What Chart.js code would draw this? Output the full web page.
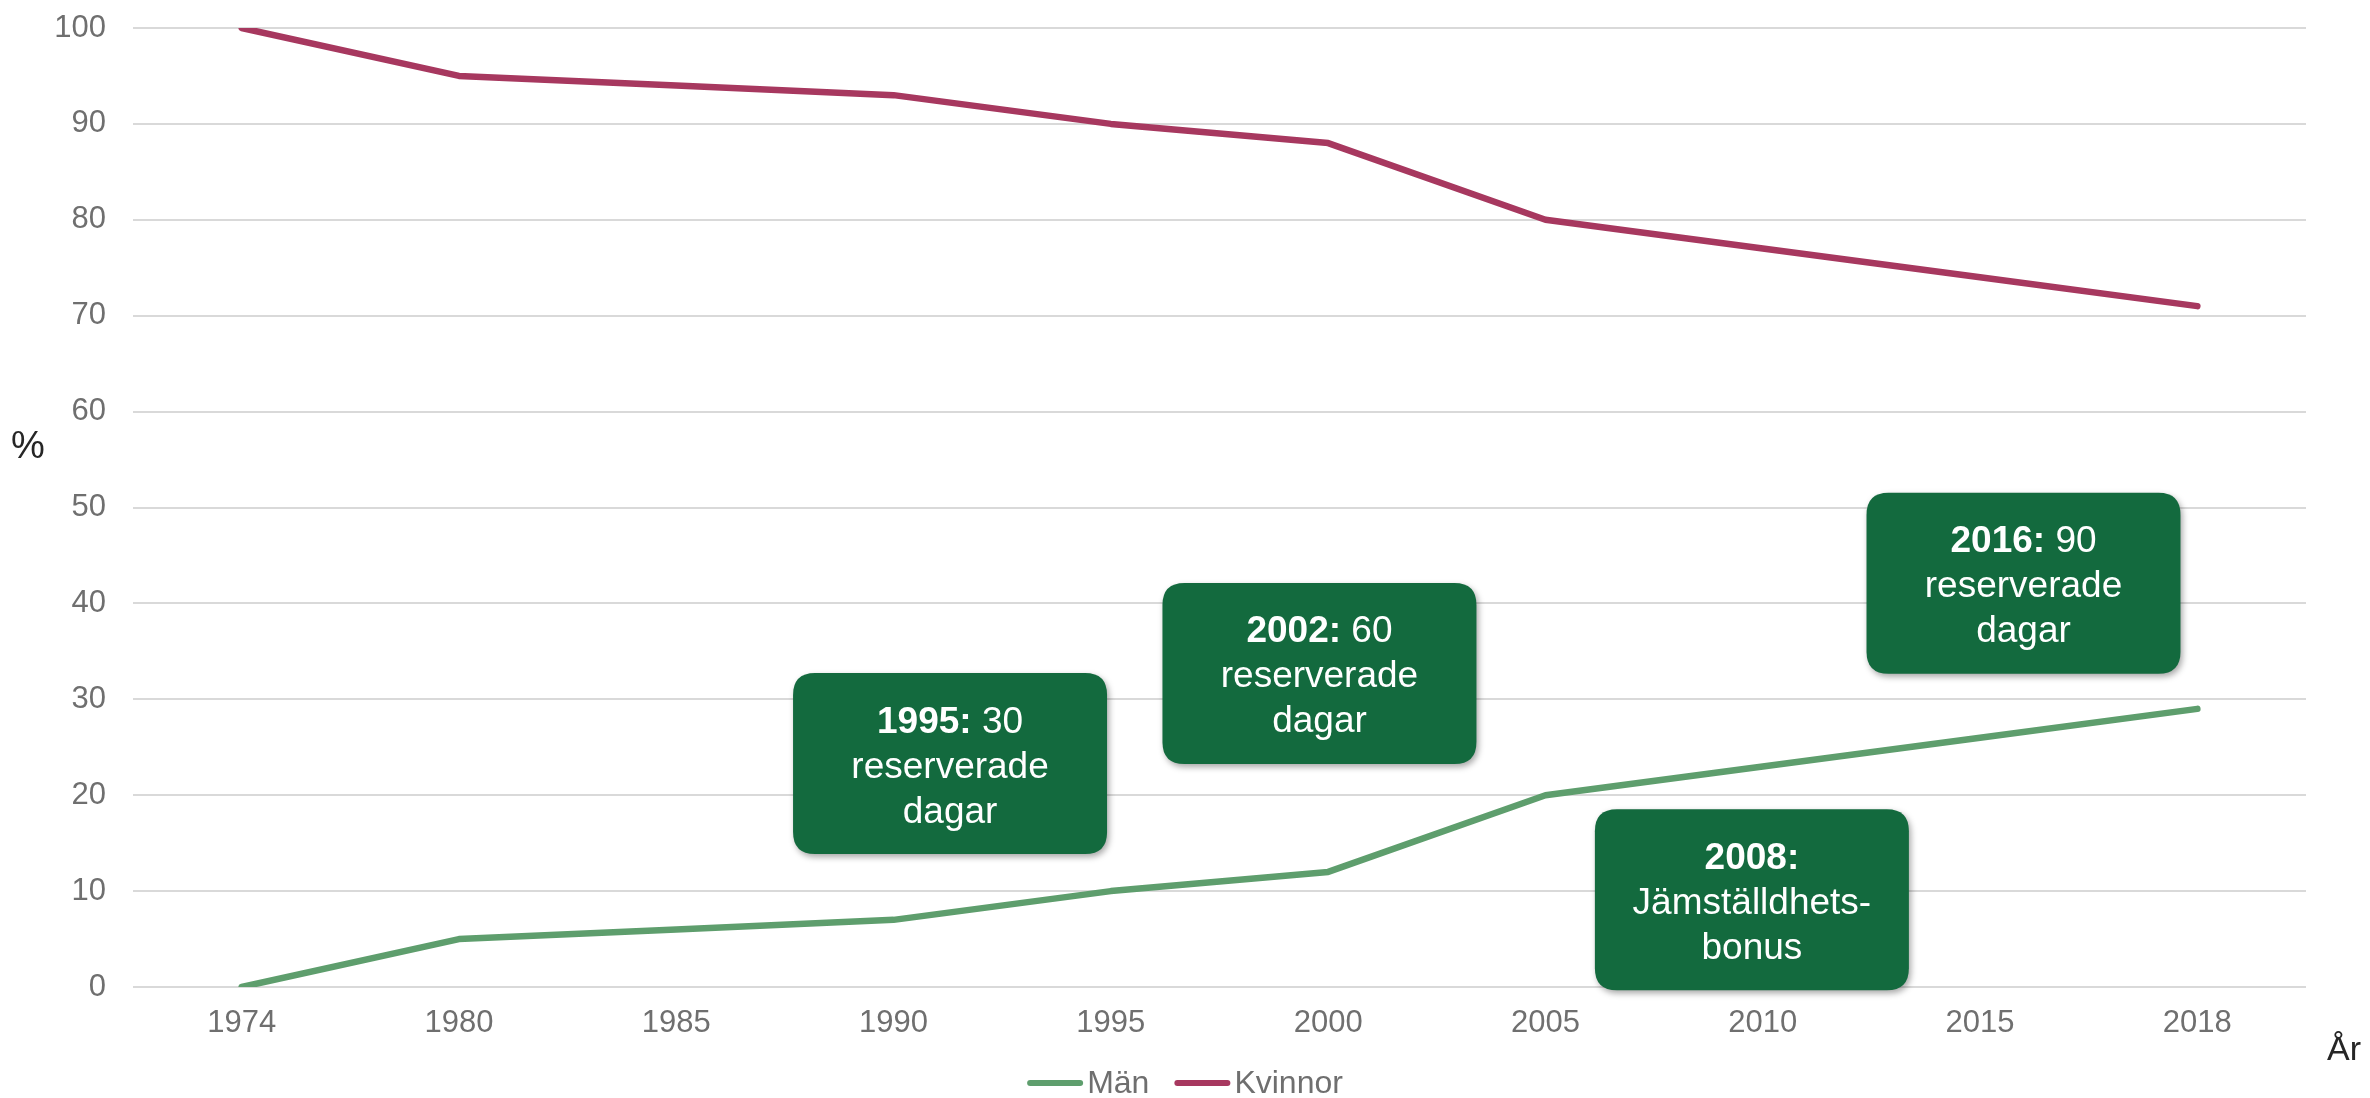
<!DOCTYPE html>
<html lang="sv">
<head>
<meta charset="utf-8">
<title>Föräldrapenning – andel dagar</title>
<script src="https://cdn.jsdelivr.net/npm/chart.js@4"></script>
<style>
  html, body { margin: 0; padding: 0; background: #fff; }
  #wrap { position: relative; width: 2370px; height: 1098px; }
</style>
</head>
<body>
<div id="wrap"><canvas id="chart"></canvas></div>
<script>
// Kategorier och serier (andel uttagna dagar, %)
const years = ['1974', '1980', '1985', '1990', '1995', '2000', '2005', '2010', '2015', '2018'];
const men = [0, 5, 6, 7, 10, 12, 20, 23, 26, 29];
const women = [100, 95, 94, 93, 90, 88, 80, 77, 74, 71];
const yTicks = [0, 10, 20, 30, 40, 50, 60, 70, 80, 90, 100];
const seriesNames = ['Män', 'Kvinnor'];

// Textrutor: fet årtal, resten vanlig text
const noteYears = ['1995:', '2002:', '2008:', '2016:'];
const noteRest = [' 30', ' 60', '', ' 90'];
const noteLines = [
  ['reserverade', 'dagar'],
  ['reserverade', 'dagar'],
  ['Jämställdhets-', 'bonus'],
  ['reserverade', 'dagar']
];
// Rutornas mittpunkt i diagrammets koordinater (kategoriindex, %)
const noteAnchors = [[3.26, 23.3], [4.96, 32.7], [6.95, 9.1], [8.2, 42.1]];

const FONT = '"Liberation Sans", Arial, sans-serif';
const colMen = '#5e9e6d';
const colWomen = '#a7385f';
const tickGrey = '#6f6f6f';

function roundRect(ctx, x, y, w, h, r) {
  ctx.beginPath();
  ctx.moveTo(x + r, y);
  ctx.lineTo(x + w - r, y);
  ctx.quadraticCurveTo(x + w, y, x + w, y + r);
  ctx.lineTo(x + w, y + h - r);
  ctx.quadraticCurveTo(x + w, y + h, x + w - r, y + h);
  ctx.lineTo(x + r, y + h);
  ctx.quadraticCurveTo(x, y + h, x, y + h - r);
  ctx.lineTo(x, y + r);
  ctx.quadraticCurveTo(x, y, x + r, y);
  ctx.closePath();
}

const extrasPlugin = {
  id: 'extras',
  afterDraw(chart) {
    const ctx = chart.ctx;
    const xs = chart.scales.x, ys = chart.scales.y;

    // textrutor
    const bw = 314, bh = 181, rad = 22, lh = 45;
    noteAnchors.forEach((a, i) => {
      const cx = xs.getPixelForValue(a[0]);
      const cy = ys.getPixelForValue(a[1]);
      ctx.save();
      ctx.shadowColor = 'rgba(0,0,0,0.35)';
      ctx.shadowBlur = 6;
      ctx.shadowOffsetX = 2;
      ctx.shadowOffsetY = 3;
      roundRect(ctx, cx - bw / 2, cy - bh / 2, bw, bh, rad);
      ctx.fillStyle = '#136a3e';
      ctx.fill();
      ctx.restore();

      ctx.save();
      ctx.fillStyle = '#ffffff';
      ctx.textBaseline = 'alphabetic';
      const base = cy + 14;
      ctx.font = '700 37px ' + FONT;
      const w1 = ctx.measureText(noteYears[i]).width;
      ctx.font = '400 37px ' + FONT;
      const w2 = ctx.measureText(noteRest[i]).width;
      const sx = cx - (w1 + w2) / 2;
      ctx.textAlign = 'left';
      ctx.font = '700 37px ' + FONT;
      ctx.fillText(noteYears[i], sx, base - lh);
      ctx.font = '400 37px ' + FONT;
      ctx.fillText(noteRest[i], sx + w1, base - lh);
      ctx.textAlign = 'center';
      ctx.fillText(noteLines[i][0], cx, base);
      ctx.fillText(noteLines[i][1], cx, base + lh);
      ctx.restore();
    });

    // axeltitlar
    ctx.save();
    ctx.fillStyle = '#262626';
    ctx.textBaseline = 'middle';
    ctx.textAlign = 'left';
    ctx.font = '38px ' + FONT;
    ctx.fillText('%', 11, 448);
    ctx.font = '34px ' + FONT;
    ctx.textBaseline = 'alphabetic';
    ctx.fillText('År', 2327, 1060);
    ctx.restore();

    // förklaring
    ctx.save();
    ctx.font = '32px ' + FONT;
    ctx.textBaseline = 'middle';
    ctx.textAlign = 'left';
    const lineW = 56, gap = 4, itemGap = 25, ly = 1083;
    const items = chart.data.datasets.map(d => ({ label: d.label, color: d.borderColor, tw: ctx.measureText(d.label).width }));
    const total = items.reduce((s, it) => s + lineW + gap + it.tw, 0) + itemGap * (items.length - 1);
    let lx = chart.width / 2 - total / 2;
    items.forEach(it => {
      ctx.strokeStyle = it.color;
      ctx.lineWidth = 6;
      ctx.lineCap = 'round';
      ctx.beginPath();
      ctx.moveTo(lx + 3, ly);
      ctx.lineTo(lx + lineW - 3, ly);
      ctx.stroke();
      ctx.fillStyle = tickGrey;
      ctx.fillText(it.label, lx + lineW + gap, ly + 1);
      lx += lineW + gap + it.tw + itemGap;
    });
    ctx.restore();
  }
};

new Chart(document.getElementById('chart'), {
  type: 'line',
  data: {
    labels: years,
    datasets: [
      {
        label: seriesNames[0],
        data: men,
        borderColor: colMen,
        backgroundColor: colMen,
        borderWidth: 6.5,
        borderJoinStyle: 'round',
        borderCapStyle: 'round',
        pointRadius: 0,
        tension: 0
      },
      {
        label: seriesNames[1],
        data: women,
        borderColor: colWomen,
        backgroundColor: colWomen,
        borderWidth: 6.5,
        borderJoinStyle: 'round',
        borderCapStyle: 'round',
        pointRadius: 0,
        tension: 0
      }
    ]
  },
  options: {
    responsive: true,
    maintainAspectRatio: false,
    animation: false,
    devicePixelRatio: 1,
    layout: { padding: { left: 0, top: 28, right: 64, bottom: 0 } },
    plugins: {
      legend: { display: false },
      tooltip: { enabled: false }
    },
    scales: {
      x: {
        offset: true,
        grid: { display: false, drawTicks: false },
        border: { display: false },
        ticks: {
          color: tickGrey,
          font: { family: FONT, size: 31 },
          padding: 18,
          maxRotation: 0,
          autoSkip: false
        },
        afterFit(scale) {
          scale.height = 111;
          scale.paddingLeft = 0;
          scale.paddingRight = 0;
        }
      },
      y: {
        min: 0,
        max: 100,
        grid: { color: '#d9d9d9', lineWidth: 2, drawTicks: false },
        border: { display: false },
        ticks: {
          color: tickGrey,
          font: { family: FONT, size: 31 },
          padding: 27
        },
        afterBuildTicks(scale) { scale.ticks = yTicks.map(v => ({ value: v })); },
        afterFit(scale) {
          scale.width = 133;
          scale.paddingTop = 0;
          scale.paddingBottom = 0;
        }
      }
    }
  },
  plugins: [extrasPlugin]
});
</script>
</body>
</html>
